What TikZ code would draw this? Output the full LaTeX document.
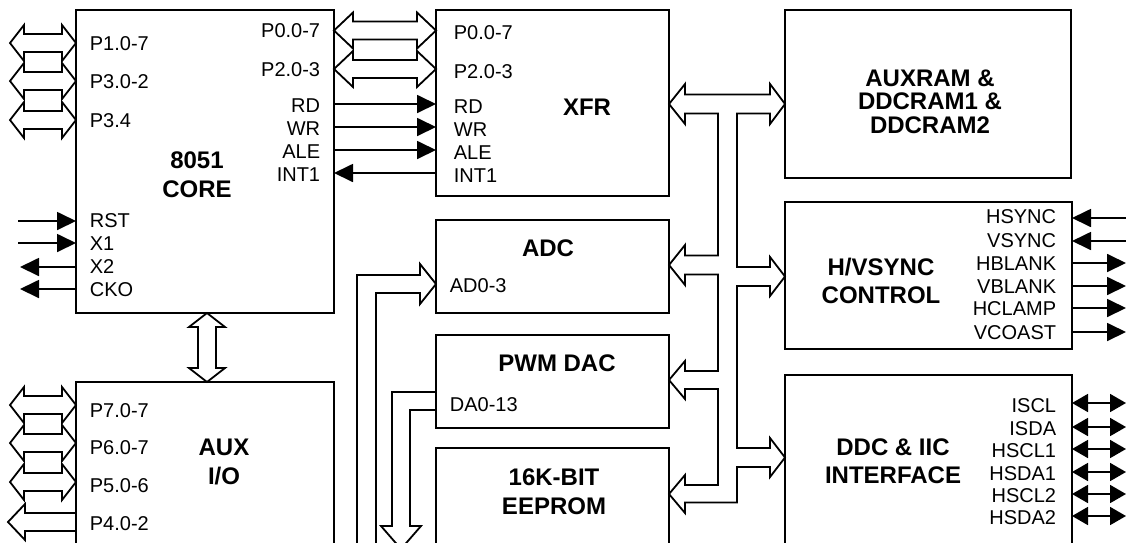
\documentclass[tikz,border=0pt]{standalone}
\usepackage{fontspec}
\setmainfont{Liberation Sans}
\usetikzlibrary{arrows.meta,calc}
\newcommand\pinfont{\fontsize{20}{23}\selectfont}
\newcommand\ttlfont{\fontsize{24}{29}\selectfont\bfseries}
\newcommand\ramfont{\fontsize{24}{23.5}\selectfont\bfseries}
\newcommand\hvfont{\fontsize{24}{28}\selectfont\bfseries}
\tikzset{
  fath/.store in=\fath, fats/.store in=\fats, fatw/.store in=\fatw,
  fath=14pt, fats=9pt, fatw=18pt,
}
\begin{document}
\begin{tikzpicture}[x=1pt,y=-1pt,line width=1.8pt,
  box/.style={draw,rectangle,anchor=north west,inner sep=0pt,outer sep=0pt},
  pinL/.style={anchor=base west,inner sep=0pt,font=\pinfont},
  pinR/.style={anchor=base east,inner sep=0pt,font=\pinfont},
  ttl/.style={align=center,inner sep=0pt,font=\ttlfont},
  sig/.style={-{Triangle[length=19pt,width=18pt]}},
  dsig/.style={{Triangle[length=16pt,width=18pt]}-{Triangle[length=16pt,width=18pt]}},
  fatH/.style={to path={let \p1=(\tikztostart),\p2=(\tikztotarget) in
    (\x1,\y1) -- (\x1+\fath,\y1+\fatw) -- (\x1+\fath,\y1+\fats) -- (\x2-\fath,\y1+\fats)
    -- (\x2-\fath,\y1+\fatw) -- (\x2,\y1) -- (\x2-\fath,\y1-\fatw) -- (\x2-\fath,\y1-\fats)
    -- (\x1+\fath,\y1-\fats) -- (\x1+\fath,\y1-\fatw) -- cycle}},
  fatV/.style={to path={let \p1=(\tikztostart),\p2=(\tikztotarget) in
    (\x1,\y1) -- (\x1+\fatw,\y1-\fath) -- (\x1+\fats,\y1-\fath) -- (\x1+\fats,\y2+\fath)
    -- (\x1+\fatw,\y2+\fath) -- (\x1,\y2) -- (\x1-\fatw,\y2+\fath) -- (\x1-\fats,\y2+\fath)
    -- (\x1-\fats,\y1-\fath) -- (\x1-\fatw,\y1-\fath) -- cycle}},
]
\useasboundingbox (0,0) rectangle (1126,542);
\clip (0,0) rectangle (1126,542);

% boxes
\node[box,minimum width=258pt,minimum height=303pt] (core) at (76,10) {};
\node[box,minimum width=258pt,minimum height=260pt] (aux) at (76,382) {};
\node[box,minimum width=233pt,minimum height=186pt] (xfr) at (436,10) {};
\node[box,minimum width=286pt,minimum height=168pt] (ram) at (785,10) {};
\node[box,minimum width=233pt,minimum height=93pt] (adc) at (436,220) {};
\node[box,minimum width=233pt,minimum height=93pt] (pwm) at (436,335) {};
\node[box,minimum width=233pt,minimum height=200pt] (eep) at (436,448) {};
\node[box,minimum width=287pt,minimum height=147pt] (hv) at (785,202) {};
\node[box,minimum width=287pt,minimum height=250pt] (ddc) at (785,375) {};

% titles
\node[ttl] (tcore) at (197,174.5) {8051\\CORE};
\node[ttl] (taux) at (224,462) {AUX\\I/O};
\node[ttl] (txfr) at (587,107) {XFR};
\node[ttl,font=\ramfont] (tram) at (930,101.5) {AUXRAM \&\\DDCRAM1 \&\\DDCRAM2};
\node[ttl] (tadc) at (548,248) {ADC};
\node[ttl] (tpwm) at (557,363) {PWM DAC};
\node[ttl] (teep) at (554,491.5) {16K-BIT\\EEPROM};
\node[ttl,font=\hvfont] (thv) at (881,281) {H/VSYNC\\CONTROL};
\node[ttl,font=\hvfont] (tddc) at (893,461) {DDC \& IIC\\INTERFACE};

% pin labels
\node[pinL] (c1) at (89,50) {P1.0-7};
\node[pinL] (c2) at (89,88) {P3.0-2};
\node[pinL] (c3) at (89,127) {P3.4};
\node[pinL] (c4) at (89,227) {RST};
\node[pinL] (c5) at (89,250) {X1};
\node[pinL] (c6) at (89,273) {X2};
\node[pinL] (c7) at (89,296) {CKO};
\node[pinR] (c8) at (321,37) {P0.0-7};
\node[pinR] (c9) at (321,76) {P2.0-3};
\node[pinR] (c10) at (321,112) {RD};
\node[pinR] (c11) at (321,135) {WR};
\node[pinR] (c12) at (321,158) {ALE};
\node[pinR] (c13) at (321,181) {INT1};
\node[pinL] (x1) at (453,39) {P0.0-7};
\node[pinL] (x2) at (453,78) {P2.0-3};
\node[pinL] (x3) at (453,113) {RD};
\node[pinL] (x4) at (453,136) {WR};
\node[pinL] (x5) at (453,159) {ALE};
\node[pinL] (x6) at (453,182) {INT1};
\node[pinL] (a1) at (89,417) {P7.0-7};
\node[pinL] (a2) at (89,454) {P6.0-7};
\node[pinL] (a3) at (89,492) {P5.0-6};
\node[pinL] (a4) at (89,530) {P4.0-2};
\node[pinL] (ad) at (449,292) {AD0-3};
\node[pinL] (da) at (449,411) {DA0-13};
\node[pinR] (v1) at (1057,223) {HSYNC};
\node[pinR] (v2) at (1057,247) {VSYNC};
\node[pinR] (v3) at (1057,270) {HBLANK};
\node[pinR] (v4) at (1057,293) {VBLANK};
\node[pinR] (v5) at (1057,315) {HCLAMP};
\node[pinR] (v6) at (1057,339) {VCOAST};
\node[pinR] (i1) at (1057,412) {ISCL};
\node[pinR] (i2) at (1057,435) {ISDA};
\node[pinR] (i3) at (1057,457) {HSCL1};
\node[pinR] (i4) at (1057,480) {HSDA1};
\node[pinR] (i5) at (1057,502) {HSCL2};
\node[pinR] (i6) at (1057,524) {HSDA2};

% free ends
\coordinate (e1) at (10,43);
\coordinate (e2) at (10,81);
\coordinate (e3) at (10,120);
\coordinate (e4) at (10,405);
\coordinate (e5) at (10,443);
\coordinate (e6) at (10,482);
\coordinate (e7) at (8,522);
\coordinate (r1) at (18,221);
\coordinate (r2) at (18,243);
\coordinate (r3) at (20,267);
\coordinate (r4) at (20,289);
\coordinate (h1) at (1130,218);
\coordinate (h2) at (1130,241);
\coordinate (h3) at (1126,263);
\coordinate (h4) at (1126,286);
\coordinate (h5) at (1126,308);
\coordinate (h6) at (1126,332);
\coordinate (d1) at (1126,403);
\coordinate (d2) at (1126,427);
\coordinate (d3) at (1126,449);
\coordinate (d4) at (1126,472);
\coordinate (d5) at (1126,494);
\coordinate (d6) at (1126,516);

% fat bus arrows, left ports
\draw[fatH] (e1) to (core.west |- e1);
\draw[fatH] (e2) to (core.west |- e2);
\draw[fatH] (e3) to (core.west |- e3);
\draw[fatH] (e4) to (aux.west |- e4);
\draw[fatH] (e5) to (aux.west |- e5);
\draw[fatH] (e6) to (aux.west |- e6);
\draw (aux.west |- 0,513) -- (25,513) -- (25,504) -- (e7) -- (25,540) -- (25,531) -- (aux.west |- 0,531);

% core <-> xfr ports
\begin{scope}[fath=19pt]
\draw[fatH] (core.east |- 0,30.5) to (xfr.west |- 0,30.5);
\draw[fatH] (core.east |- 0,69) to (xfr.west |- 0,69);
\end{scope}

% core <-> aux
\draw[fatV] (core.south -| 207,0) to (aux.north -| 207,0);

% single signals
\draw[sig] (core.east |- 0,104) -- (xfr.west |- 0,104);
\draw[sig] (core.east |- 0,127) -- (xfr.west |- 0,127);
\draw[sig] (core.east |- 0,150) -- (xfr.west |- 0,150);
\draw[sig] (xfr.west |- 0,173) -- (core.east |- 0,173);
\draw[sig] (r1) -- (core.west |- r1);
\draw[sig] (r2) -- (core.west |- r2);
\draw[sig] (core.west |- r3) -- (r3);
\draw[sig] (core.west |- r4) -- (r4);
\draw[sig] (h1) -- (hv.east |- h1);
\draw[sig] (h2) -- (hv.east |- h2);
\draw[sig] (hv.east |- h3) -- (h3);
\draw[sig] (hv.east |- h4) -- (h4);
\draw[sig] (hv.east |- h5) -- (h5);
\draw[sig] (hv.east |- h6) -- (h6);
\draw[dsig] (ddc.east |- d1) -- (d1);
\draw[dsig] (ddc.east |- d2) -- (d2);
\draw[dsig] (ddc.east |- d3) -- (d3);
\draw[dsig] (ddc.east |- d4) -- (d4);
\draw[dsig] (ddc.east |- d5) -- (d5);
\draw[dsig] (ddc.east |- d6) -- (d6);

% internal bus
\draw (669,104) -- (685,84) -- (685,94.5) -- (770,94.5) -- (770,84) -- (785,104)
  -- (770,124) -- (770,113.5) -- (737,113.5) -- (737,267) -- (770,267) -- (770,257)
  -- (785,276.5) -- (770,296) -- (770,286) -- (737,286) -- (737,448) -- (770,448)
  -- (770,438) -- (785,457.5) -- (770,477) -- (770,467) -- (737,467) -- (737,502.5)
  -- (685,502.5) -- (685,513) -- (669,494) -- (685,475) -- (685,485) -- (718,485)
  -- (718,389) -- (685,389) -- (685,399) -- (669,380) -- (685,361) -- (685,371)
  -- (718,371) -- (718,274.5) -- (685,274.5) -- (685,285) -- (669,265) -- (685,245)
  -- (685,255.5) -- (718,255.5) -- (718,113.5) -- (685,113.5) -- (685,124) -- cycle;

% analog buses
\draw (357,560) -- (357,275) -- (420,275) -- (420,264) -- (adc.west |- 0,284)
  -- (420,304) -- (420,293) -- (376,293) -- (376,560);
\draw (pwm.west |- 0,392) -- (392,392) -- (392,526) -- (381,526) -- (401,549)
  -- (421,526) -- (410,526) -- (410,410) -- (pwm.west |- 0,410);
\end{tikzpicture}
\end{document}
